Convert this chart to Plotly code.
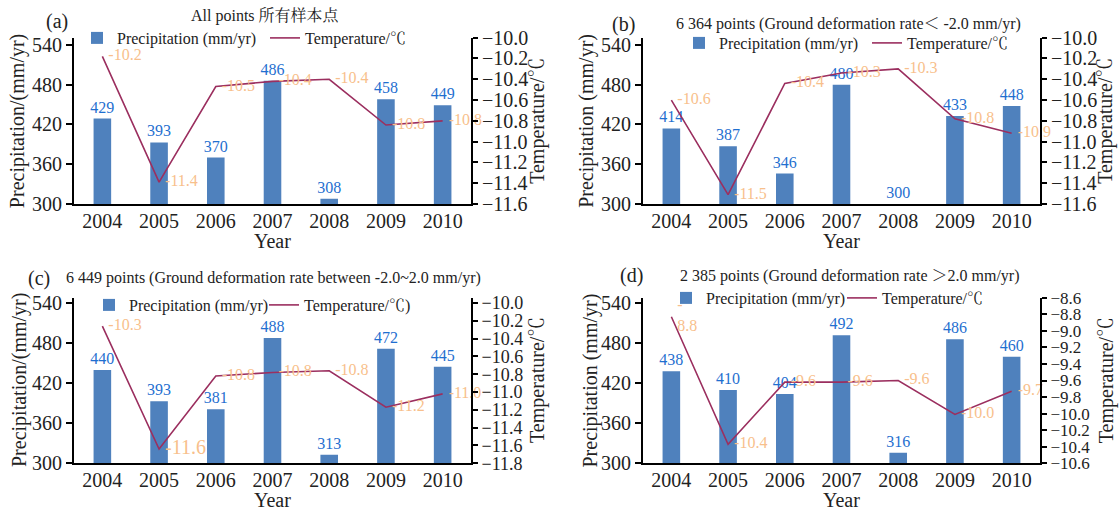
import plotly.graph_objects as go

W, H = 1120, 511

years = ["2004", "2005", "2006", "2007", "2008", "2009", "2010"]

precip_a = [429, 393, 370, 486, 308, 458, 449]
temp_a = [-10.18, -11.39, -10.47, -10.42, -10.40, -10.84, -10.80]

precip_b = [414, 387, 346, 480, 300, 433, 448]
temp_b = [-10.60, -11.51, -10.44, -10.34, -10.30, -10.78, -10.92]

precip_c = [440, 393, 381, 488, 313, 472, 445]
temp_c = [-10.26, -11.64, -10.82, -10.78, -10.76, -11.17, -11.02]

precip_d = [438, 410, 404, 492, 316, 486, 460]
temp_d = [-8.83, -10.37, -9.62, -9.62, -9.60, -10.01, -9.73]

letters = ["(a)", "(b)", "(c)", "(d)"]
titles = [
    "All points 所有样本点",
    "6 364 points (Ground deformation rate＜ -2.0 mm/yr)",
    "6 449 points (Ground deformation rate between -2.0~2.0 mm/yr)",
    "2 385 points (Ground deformation rate ＞2.0 mm/yr)",
]
precip_axis_titles = ["Precipitation/(mm/yr)", "Precipitation (mm/yr)",
                      "Precipitation/(mm/yr)", "Precipitation (mm/yr)"]
temp_axis_title = "Temperature/℃"
bar_names = ["Precipitation (mm/yr)"] * 4
line_names = ["Temperature/℃", "Temperature/℃", "Temperature/℃)", "Temperature/℃"]

precip_ranges = [[300, 551], [300, 551], [300, 548.4], [300, 548.4]]
temp_ranges = [[-11.6, -10.0], [-11.6, -10.0], [-11.8, -9.94], [-10.6, -8.6]]

FONT = "Liberation Serif, Noto Serif CJK SC, Noto Sans CJK SC, serif"
BAR_C = "#4F81BD"
LINE_C = "#9B2F5F"
BAR_TXT = "#1F6FD0"
TMP_TXT = "#F8BF8C"
INK = "#222222"

# panel geometry in pixels: left, right, top, bottom
geom = [(74, 471, 37.7, 204), (643, 1040, 37.7, 204),
        (74, 471, 297.7, 463.3), (643, 1040, 297.7, 463.3)]
letter_pos = [(56.7, 21.7), (623.6, 24), (39, 278), (631.7, 275)]
title_pos = [(265, 16), (848, 24.3), (273, 278), (849.5, 275.5)]
ytitle_x = [18.3, 587, 19.5, 590]
y2title_x = [538, 1106, 537.5, 1106.7]
year_y = [241, 241, 500, 500]
right_tick_size = [20, 20, 18, 17]
# legend: first text start px, spacing between text starts, y px
legend_cfg = [(117, 188, 38), (719, 188, 43), (129, 175, 305), (706, 176, 298)]

precips = [precip_a, precip_b, precip_c, precip_d]
temps = [temp_a, temp_b, temp_c, temp_d]


def fx(px):
    return px / W


def fy(py):
    return 1 - py / H


def ann(text, px, py, size, angle=0):
    return dict(text=text, x=fx(px), y=fy(py), xref="paper", yref="paper",
                xanchor="center", yanchor="middle", showarrow=False,
                textangle=angle, font=dict(size=size, family=FONT, color=INK))


fig = go.Figure()
layout = dict(width=W, height=H, autosize=False,
              margin=dict(l=0, r=0, t=0, b=0, pad=0, autoexpand=False),
              paper_bgcolor="white", plot_bgcolor="white",
              font=dict(family=FONT, color=INK, size=16),
              showlegend=True)
annotations = []

for i in range(4):
    l, r, t, b = geom[i]
    xa = "x" if i == 0 else f"x{i+1}"
    ya_n = 2 * i + 1
    yb_n = 2 * i + 2
    ya = "y" if ya_n == 1 else f"y{ya_n}"
    yb = f"y{yb_n}"
    leg = "legend" if i == 0 else f"legend{i+1}"

    temp_labels = [f"{v:.1f}" for v in temps[i]]
    if i == 3:
        temp_labels[0] = temp_labels[0].replace("-", "-<br>", 1)
    tsizes = [16] * 7
    if i == 2:
        tsizes[1] = 20

    fig.add_trace(go.Bar(
        x=years, y=precips[i], name=bar_names[i], xaxis=xa, yaxis=ya,
        width=0.31, marker=dict(color=BAR_C, line=dict(width=0)),
        text=[str(v) for v in precips[i]], textposition="outside",
        textfont=dict(color=BAR_TXT, size=16, family=FONT),
        constraintext="none", cliponaxis=False, legend=leg,
    ))
    fig.add_trace(go.Scatter(
        x=years, y=temps[i], name=line_names[i], xaxis=xa, yaxis=yb,
        mode="lines+markers+text", line=dict(color=LINE_C, width=1.6),
        marker=dict(size=8, color="rgba(0,0,0,0)", line=dict(width=0)),
        text=temp_labels, textposition="middle right",
        textfont=dict(color=TMP_TXT, size=tsizes, family=FONT),
        cliponaxis=False, legend=leg,
    ))

    xkey = "xaxis" if i == 0 else f"xaxis{i+1}"
    yakey = "yaxis" if ya_n == 1 else f"yaxis{ya_n}"
    ybkey = f"yaxis{yb_n}"
    layout[xkey] = dict(domain=[fx(l), fx(r)], anchor=ya, type="category",
                        range=[-0.5, 6.5], showline=True, linecolor="black",
                        linewidth=2, ticks="", showgrid=False, zeroline=False,
                        automargin=False, ticklabelstandoff=-2,
                        tickfont=dict(size=20, color=INK, family=FONT))
    layout[yakey] = dict(domain=[fy(b), fy(t)], anchor=xa, range=precip_ranges[i],
                         tick0=300, dtick=60, showline=True, linecolor="black",
                         linewidth=2, ticks="outside", ticklen=6, tickwidth=1.5,
                         tickcolor="black", showgrid=False, zeroline=False,
                         automargin=False,
                         tickfont=dict(size=20, color=INK, family=FONT))
    layout[ybkey] = dict(overlaying=ya, side="right", anchor=xa, range=temp_ranges[i],
                         dtick=0.2, tick0=0, tickformat=".1f", showline=True,
                         linecolor="black", linewidth=2, ticks="outside", ticklen=5,
                         tickwidth=1.5, tickcolor="black", showgrid=False,
                         zeroline=False, automargin=False,
                         tickfont=dict(size=right_tick_size[i], color=INK, family=FONT))

    ts, sp, ly = legend_cfg[i]
    layout[leg] = dict(orientation="h", x=fx(ts - 40), xanchor="left",
                       y=fy(ly), yanchor="middle", entrywidth=sp - 45,
                       entrywidthmode="pixels", itemwidth=30,
                       bgcolor="rgba(0,0,0,0)", font=dict(size=16, family=FONT, color=INK),
                       traceorder="normal")

    annotations.append(ann(letters[i], letter_pos[i][0], letter_pos[i][1], 20))
    annotations.append(ann(titles[i], title_pos[i][0], title_pos[i][1], 16))
    annotations.append(ann(precip_axis_titles[i], ytitle_x[i], (t + b) / 2, 20, -90))
    annotations.append(ann(temp_axis_title, y2title_x[i], (t + b) / 2, 20, -90))
    annotations.append(ann("Year", (l + r) / 2, year_y[i], 20))

layout["annotations"] = annotations
fig.update_layout(**layout)

fig.write_html("out.html", config={"displayModeBar": False},
               post_script="document.body.style.margin='0';")
